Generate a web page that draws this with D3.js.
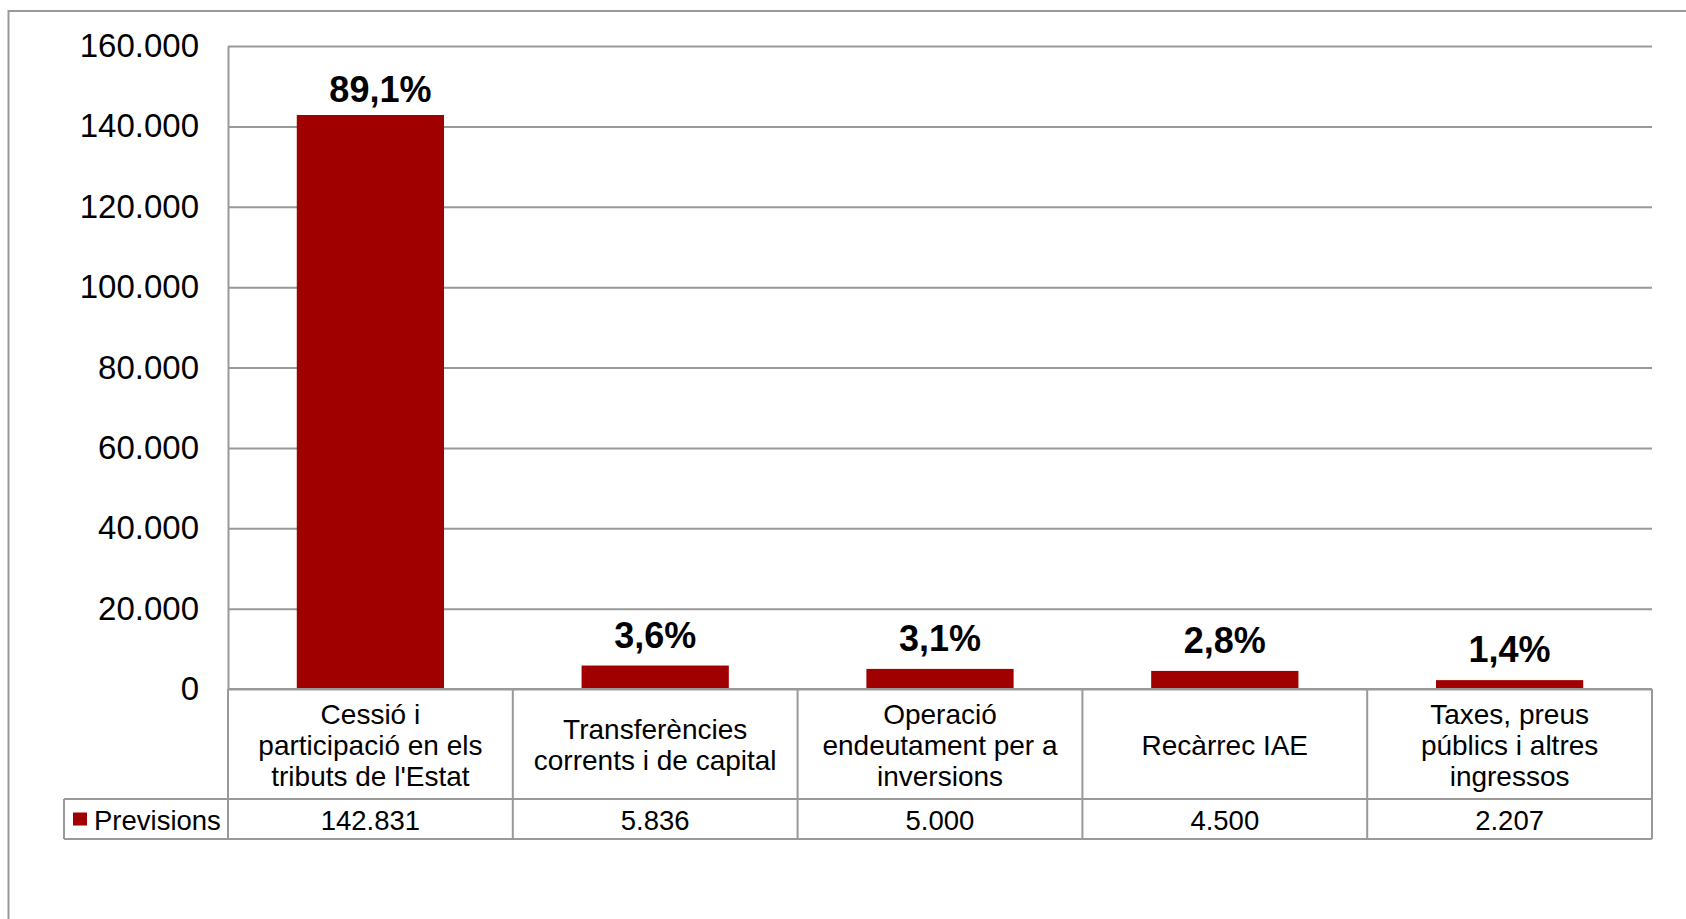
<!DOCTYPE html>
<html>
<head>
<meta charset="utf-8">
<script src="https://cdn.jsdelivr.net/npm/d3@7"></script>
<style>
	body { margin: 0; background: #fff; }
	svg { display: block; font-family: "Liberation Sans", Arial, sans-serif; }
</style>
</head>
<body>
<svg id="chart"></svg>
<script>
// data
const categories = [
	["Cessió i", "participació en els", "tributs de l'Estat"],
	["Transferències", "corrents i de capital"],
	["Operació", "endeutament per a", "inversions"],
	["Recàrrec IAE"],
	["Taxes, preus", "públics i altres", "ingressos"]
];
const values = [142831, 5836, 5000, 4500, 2207];
const seriesName = "Previsions";
const yTicks = [0, 20000, 40000, 60000, 80000, 100000, 120000, 140000, 160000];

const width = 1686,
	height = 919;
const margin = { top: 46, right: 34, left: 228 };
const zeroY = 689,
	catRowBottom = 799,
	valRowBottom = 839,
	legendLeft = 64;
const barColor = "#a00000",
	lineColor = "#999";

const locale = d3.formatLocale({ decimal: ",", thousands: ".", grouping: [3], currency: ["", ""] });
const fmtNum = locale.format(",d");
const fmtPct = locale.format(".1f");
const total = d3.sum(values);

const svg = d3.select("#chart").attr("width", width).attr("height", height);

// outer frame (runs off the page right/bottom as in the original)
svg.append("rect")
	.attr("x", 8.5)
	.attr("y", 11)
	.attr("width", width)
	.attr("height", height)
	.attr("fill", "none")
	.attr("stroke", lineColor)
	.attr("stroke-width", 2);

const x = d3.scaleBand()
	.domain(d3.range(values.length))
	.range([margin.left, width - margin.right])
	.paddingInner(0.483)
	.paddingOuter(0.2415);

const cell = d3.scaleBand()
	.domain(d3.range(values.length))
	.range([margin.left, width - margin.right]);

const y = d3.scaleLinear().domain([0, 160000]).range([zeroY, margin.top]);

// y axis with gridlines
const yAxis = d3.axisLeft(y)
	.tickValues(yTicks)
	.tickFormat(fmtNum)
	.tickSizeInner(-(width - margin.right - margin.left))
	.tickSizeOuter(0)
	.tickPadding(29);

const gy = svg.append("g")
	.attr("transform", `translate(${margin.left},0)`)
	.call(yAxis);
gy.select(".domain").attr("stroke", lineColor).attr("stroke-width", 2);
gy.selectAll(".tick line").attr("stroke", lineColor).attr("stroke-width", 2);
gy.selectAll(".tick text")
	.attr("fill", "#000")
	.style("font-size", "33px")
	.style("font-family", "'Liberation Sans', Arial, sans-serif");

// bars
svg.append("g")
	.selectAll("rect")
	.data(values)
	.join("rect")
	.attr("x", (d, i) => x(i))
	.attr("y", (d) => y(d))
	.attr("width", x.bandwidth())
	.attr("height", (d) => y(0) - y(d))
	.attr("fill", barColor);

// percentage labels
svg.append("g")
	.selectAll("text")
	.data(values)
	.join("text")
	.attr("x", (d, i) => x(i) + x.bandwidth() / 2 + (i === 0 ? 10 : 0))
	.attr("y", (d, i) => y(d) - (i === 0 ? 13 : 18))
	.attr("text-anchor", "middle")
	.style("font-size", "36px")
	.style("font-weight", "bold")
	.text((d) => fmtPct((d / total) * 100) + "%");

// data table
const table = svg.append("g");
const tableLine = (x1, y1, x2, y2) =>
	table.append("line")
		.attr("x1", x1).attr("y1", y1).attr("x2", x2).attr("y2", y2)
		.attr("stroke", lineColor).attr("stroke-width", 2);

tableLine(margin.left, zeroY, width - margin.right, zeroY);
tableLine(legendLeft, catRowBottom, width - margin.right, catRowBottom);
tableLine(legendLeft, valRowBottom, width - margin.right, valRowBottom);
tableLine(legendLeft, catRowBottom, legendLeft, valRowBottom);
cell.domain().forEach((i) => {
	tableLine(cell(i), zeroY, cell(i), valRowBottom);
});
tableLine(width - margin.right, zeroY, width - margin.right, valRowBottom);

const catMid = (zeroY + catRowBottom) / 2;
const lineH = 31;
table.selectAll("text.cat")
	.data(categories)
	.join("text")
	.attr("class", "cat")
	.attr("text-anchor", "middle")
	.style("font-size", "28px")
	.each(function (lines, i) {
		const t = d3.select(this);
		const y0 = catMid - ((lines.length - 1) * lineH) / 2;
		lines.forEach((ln, k) => {
			t.append("tspan")
				.attr("x", cell(i) + cell.bandwidth() / 2)
				.attr("y", y0 + k * lineH + 1)
				.attr("dy", "0.35em")
				.text(ln);
		});
	});

const valMid = (catRowBottom + valRowBottom) / 2;
table.selectAll("text.val")
	.data(values)
	.join("text")
	.attr("class", "val")
	.attr("x", (d, i) => cell(i) + cell.bandwidth() / 2)
	.attr("y", valMid + 1)
	.attr("dy", "0.35em")
	.attr("text-anchor", "middle")
	.style("font-size", "27.5px")
	.text((d) => fmtNum(d));

// legend key in the table
table.append("rect")
	.attr("x", legendLeft + 9)
	.attr("y", valMid - 6.5)
	.attr("width", 14)
	.attr("height", 13)
	.attr("fill", barColor);
table.append("text")
	.attr("x", legendLeft + 30)
	.attr("y", valMid + 1)
	.attr("dy", "0.35em")
	.style("font-size", "27.5px")
	.text(seriesName);
</script>
</body>
</html>
